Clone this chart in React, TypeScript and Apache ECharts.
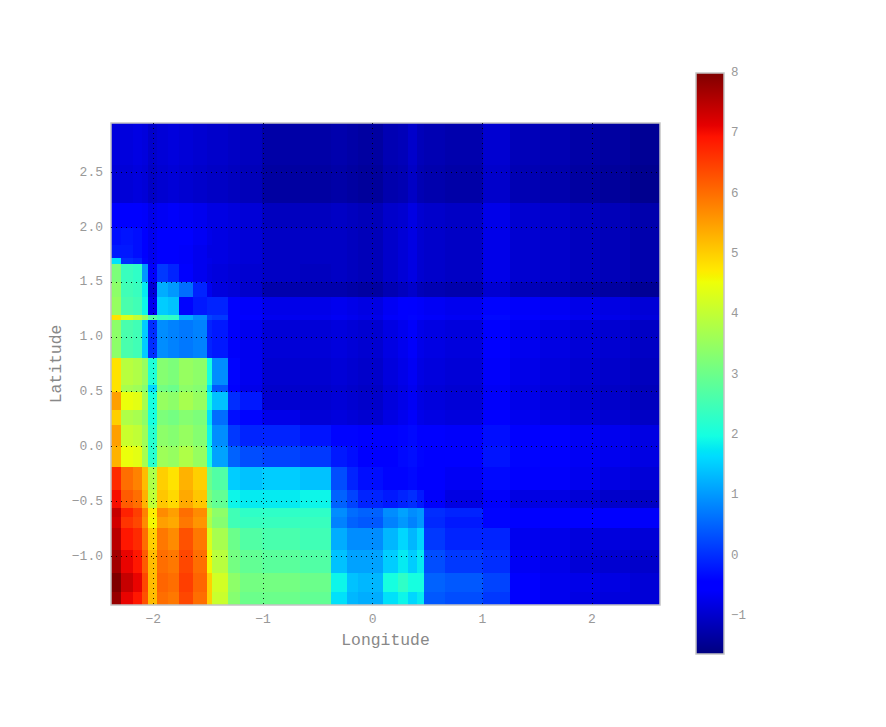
import React, { useEffect, useRef } from "react";
import * as echarts from "echarts";

const xTicks = [-2, -1, 0, 1, 2];
const yTicks = [-1, -0.5, 0, 0.5, 1, 1.5, 2, 2.5];
const barTicks = [-1, 0, 1, 2, 3, 4, 5, 6, 7, 8];
const barRange = [-1.63, 8];
const xEdges = [-2.386, -2.297, -2.188, -2.106, -2.051, -1.969, -1.869, -1.768, -1.641, -1.513, -1.468, -1.322, -1.212, -1.012, -0.665, -0.383, -0.237, -0.137, 0.091, 0.228, 0.319, 0.401, 0.465, 0.656, 1.003, 1.249, 1.522, 1.796, 2.069, 2.343, 2.62];
const yEdges = [2.949, 2.568, 2.221, 1.993, 1.838, 1.719, 1.665, 1.5, 1.364, 1.2, 1.154, 0.808, 0.562, 0.498, 0.334, 0.197, 0.005, -0.186, -0.396, -0.56, -0.642, -0.742, -0.943, -1.152, -1.325, -1.444];
const values = [
  [-0.85,-0.85,-0.8,-0.85,-1.0,-0.9,-0.85,-0.9,-0.95,-1.0,-1.0,-1.05,-1.1,-1.3,-1.3,-1.25,-1.3,-1.35,-1.2,-1.15,-1.0,-1.15,-1.2,-1.25,-0.95,-1.15,-1.2,-1.3,-1.35,-1.45],
  [-0.9,-0.9,-0.85,-0.9,-1.05,-0.95,-0.9,-0.95,-1.0,-1.05,-1.05,-1.1,-1.15,-1.35,-1.35,-1.3,-1.35,-1.4,-1.25,-1.2,-1.05,-1.2,-1.25,-1.3,-1.0,-1.2,-1.25,-1.35,-1.4,-1.5],
  [-0.55,-0.55,-0.55,-0.6,-0.75,-0.65,-0.6,-0.65,-0.7,-0.8,-0.8,-0.85,-0.9,-1.1,-1.1,-1.05,-1.1,-1.15,-1.0,-0.95,-0.8,-0.95,-1.0,-1.05,-0.75,-0.95,-1.0,-1.1,-1.15,-1.25],
  [-0.3,-0.25,-0.3,-0.5,-0.7,-0.5,-0.5,-0.55,-0.65,-0.75,-0.8,-0.85,-0.9,-1.05,-1.05,-1.05,-1.1,-1.15,-1.0,-0.9,-0.8,-0.95,-1.0,-1.05,-0.75,-0.95,-1.0,-1.1,-1.15,-1.25],
  [-0.2,-0.2,-0.3,-0.5,-0.7,-0.55,-0.55,-0.6,-0.7,-0.8,-0.8,-0.85,-0.9,-1.05,-1.05,-1.05,-1.1,-1.15,-1.0,-0.9,-0.8,-0.95,-1.0,-1.05,-0.75,-0.95,-1.0,-1.1,-1.15,-1.25],
  [1.7,0.0,-0.1,-0.4,-0.7,-0.5,-0.5,-0.6,-0.7,-0.75,-0.8,-0.85,-0.9,-1.05,-1.05,-1.05,-1.1,-1.15,-1.0,-0.9,-0.8,-0.95,-1.0,-1.05,-0.75,-0.95,-1.0,-1.1,-1.15,-1.25],
  [3.2,2.4,2.3,1.0,-0.6,0.1,-0.1,-0.5,-0.7,-0.8,-0.85,-0.9,-0.95,-1.05,-1.1,-1.05,-1.1,-1.15,-1.0,-0.9,-0.8,-0.95,-1.0,-1.05,-0.75,-0.95,-1.0,-1.1,-1.15,-1.25],
  [3.4,2.5,2.4,1.8,-0.9,1.2,1.0,0.6,-0.1,-0.7,-0.85,-0.9,-1.0,-1.25,-1.25,-1.25,-1.3,-1.35,-1.2,-1.1,-1.0,-1.15,-1.2,-1.25,-0.95,-1.15,-1.2,-1.3,-1.35,-1.45],
  [3.5,2.6,2.5,1.9,-0.7,1.5,1.4,-0.4,-0.2,-0.1,-0.1,-0.55,-0.6,-0.75,-0.75,-0.7,-0.75,-0.8,-0.65,-0.55,-0.45,-0.6,-0.65,-0.7,-0.4,-0.6,-0.65,-0.75,-0.8,-0.9],
  [4.8,4.3,4.0,3.5,2.7,2.4,2.3,1.2,0.9,0.2,0.1,-0.5,-0.55,-0.7,-0.7,-0.65,-0.7,-0.75,-0.6,-0.5,-0.4,-0.55,-0.6,-0.65,-0.35,-0.55,-0.6,-0.7,-0.75,-0.85],
  [3.4,2.6,2.5,1.5,0.0,0.9,0.8,0.7,0.8,-0.1,-0.2,-0.6,-0.7,-0.9,-0.9,-0.85,-0.9,-0.95,-0.8,-0.7,-0.6,-0.75,-0.8,-0.85,-0.55,-0.7,-0.8,-0.9,-0.95,-1.05],
  [4.8,3.9,3.8,3.5,2.1,3.3,3.2,3.5,3.4,2.0,0.9,-0.4,-0.7,-0.95,-0.95,-0.9,-0.95,-1.0,-0.85,-0.75,-0.65,-0.8,-0.85,-0.9,-0.6,-0.75,-0.85,-0.95,-1.0,-1.1],
  [4.8,3.7,3.6,3.3,1.6,3.1,3.0,3.4,3.3,1.7,0.4,-0.5,-0.75,-1.0,-1.0,-0.95,-1.0,-1.05,-0.9,-0.8,-0.7,-0.85,-0.9,-0.95,-0.65,-0.8,-0.9,-1.0,-1.05,-1.15],
  [5.5,4.5,4.4,3.7,2.0,3.5,3.4,3.7,3.5,2.0,1.4,0.0,-0.2,-0.95,-0.95,-0.9,-0.95,-1.0,-0.85,-0.75,-0.65,-0.8,-0.85,-0.9,-0.6,-0.75,-0.85,-0.95,-1.0,-1.1],
  [5.0,3.8,3.7,3.4,2.0,3.2,3.1,3.3,3.2,1.7,0.6,-0.3,-0.4,-0.75,-0.9,-0.85,-0.9,-0.95,-0.8,-0.7,-0.6,-0.75,-0.8,-0.85,-0.55,-0.7,-0.8,-0.9,-0.95,-1.05],
  [5.5,4.1,4.0,3.6,2.2,3.4,3.3,3.5,3.3,1.9,0.9,0.1,-0.1,-0.1,-0.25,-0.4,-0.4,-0.5,-0.5,-0.4,-0.35,-0.45,-0.55,-0.6,-0.3,-0.45,-0.55,-0.65,-0.7,-0.8],
  [5.3,4.5,4.4,3.7,2.2,3.6,3.5,3.8,3.5,2.0,1.1,0.5,0.3,0.2,0.1,-0.2,-0.3,-0.45,-0.5,-0.35,-0.3,-0.4,-0.5,-0.55,-0.25,-0.4,-0.5,-0.65,-0.7,-0.8],
  [6.7,6.0,5.8,5.2,3.8,5.0,4.8,5.3,5.0,3.0,2.7,1.5,1.4,1.5,1.4,0.3,-0.1,-0.3,-0.4,-0.4,-0.35,-0.45,-0.55,-0.65,-0.35,-0.5,-0.6,-0.7,-0.8,-0.9],
  [7.0,6.2,6.0,5.3,4.0,5.1,4.9,5.4,5.1,3.2,2.9,1.9,1.8,1.8,1.9,0.5,0.2,-0.1,-0.2,-0.1,0.0,-0.2,-0.6,-0.8,-0.6,-0.8,-0.8,-0.9,-1.0,-1.05],
  [7.4,6.8,6.5,5.8,4.7,5.7,5.5,6.0,5.7,3.9,3.4,2.5,2.3,2.3,2.3,0.9,0.6,0.5,0.9,1.1,0.9,1.0,0.0,-0.1,-0.4,-0.55,-0.55,-0.55,-0.55,-0.6],
  [7.3,6.6,6.4,5.7,4.6,5.5,5.4,5.9,5.6,3.8,3.3,2.5,2.4,2.4,2.4,0.8,0.5,0.4,0.8,1.0,0.8,1.0,-0.05,-0.2,-0.4,-0.55,-0.5,-0.55,-0.55,-0.6],
  [7.5,6.9,6.7,6.0,5.0,5.9,5.7,6.3,5.9,4.3,3.7,3.0,2.7,2.6,2.5,1.2,0.9,0.9,1.3,1.6,1.3,1.6,0.1,-0.1,-0.1,-0.7,-0.75,-0.85,-0.85,-0.9],
  [7.7,7.1,6.9,6.2,5.2,6.0,5.9,6.4,6.0,4.6,3.9,3.1,2.9,2.8,2.7,1.4,1.1,1.1,1.5,1.8,1.5,1.8,0.3,0.1,0.0,-0.65,-0.75,-0.9,-0.95,-1.0],
  [8.0,7.4,7.1,6.4,5.2,6.1,6.0,6.5,6.1,5.0,4.2,3.4,3.1,3.1,3.0,1.9,1.4,1.3,2.0,2.3,2.0,2.0,0.5,0.4,0.2,-0.55,-0.7,-0.75,-0.8,-0.9],
  [7.8,7.1,6.9,6.3,5.2,6.0,5.9,6.4,6.0,5.0,4.1,3.3,3.0,3.0,2.9,1.7,1.3,1.2,1.7,1.9,1.6,1.8,0.4,0.3,0.1,-0.55,-0.7,-0.8,-0.85,-0.9],
];

const TEXT = "#999999";
const NAME_TEXT = "#888888";
const FONT = "Liberation Mono";
const BORDER = "#c4c4c4";

// matplotlib "jet" anchor points
const jetStops: [number, number, number, number][] = [
  [0, 0, 0, 127], [0.11, 0, 0, 255], [0.125, 0, 0, 255], [0.34, 0, 220, 255], [0.35, 0, 229, 246],
  [0.375, 20, 255, 226], [0.64, 238, 255, 8], [0.65, 246, 244, 0], [0.66, 255, 234, 0],
  [0.89, 255, 19, 0], [0.91, 229, 0, 0], [1, 127, 0, 0],
];
function jet(v: number): string {
  const t = Math.min(1, Math.max(0, (v - barRange[0]) / (barRange[1] - barRange[0])));
  for (let i = 1; i < jetStops.length; i++) {
    const a = jetStops[i - 1];
    const b = jetStops[i];
    if (t <= b[0]) {
      const k = (t - a[0]) / (b[0] - a[0]);
      return `rgb(${Math.round(a[1] + (b[1] - a[1]) * k)},${Math.round(a[2] + (b[2] - a[2]) * k)},${Math.round(a[3] + (b[3] - a[3]) * k)})`;
    }
  }
  return "rgb(127,0,0)";
}

const cells: number[][] = [];
values.forEach((row, r) =>
  row.forEach((v, c) => cells.push([xEdges[c], xEdges[c + 1], yEdges[r + 1], yEdges[r], v]))
);

const minus = (s: string) => s.replace("-", "\u2212");

export default function App() {
  const ref = useRef<HTMLDivElement>(null);
  useEffect(() => {
    const chart = echarts.init(ref.current!, undefined, { renderer: "svg" });
    const axisText = { color: TEXT, fontFamily: FONT, fontSize: 13 };
    const dotted = { show: true, lineStyle: { color: "#000000", type: [1, 4] as number[], width: 1, opacity: 0.85 } };
    chart.setOption({
      animation: false,
      backgroundColor: "#ffffff",
      grid: [
        { left: 111, top: 123, width: 549, height: 482, show: true, borderColor: BORDER, borderWidth: 1.5, backgroundColor: "transparent", z: 3 },
        { left: 696, top: 73, width: 28, height: 581, show: true, borderColor: BORDER, borderWidth: 1.5, backgroundColor: "transparent", z: 3 },
      ],
      xAxis: [
        {
          type: "value", gridIndex: 0, min: xEdges[0], max: xEdges[xEdges.length - 1], z: 5,
          name: "Longitude", nameLocation: "middle", nameGap: 27,
          nameTextStyle: { color: NAME_TEXT, fontFamily: FONT, fontSize: 16.4 },
          axisLine: { show: false },
          axisTick: { show: false, customValues: xTicks },
          axisLabel: { ...axisText, margin: 8, customValues: xTicks, formatter: (v: number) => minus(String(v)) },
          splitLine: dotted,
        },
        { type: "value", gridIndex: 1, min: 0, max: 1, show: false },
      ],
      yAxis: [
        {
          type: "value", gridIndex: 0, min: yEdges[yEdges.length - 1], max: yEdges[0], z: 5,
          name: "Latitude", nameLocation: "middle", nameGap: 47, nameMoveOverlap: false,
          nameTextStyle: { color: NAME_TEXT, fontFamily: FONT, fontSize: 16.4 },
          axisLine: { show: false },
          axisTick: { show: false, customValues: yTicks },
          axisLabel: { ...axisText, margin: 8, customValues: yTicks, formatter: (v: number) => minus(v.toFixed(1)) },
          splitLine: dotted,
        },
        {
          type: "value", gridIndex: 1, position: "right", min: barRange[0], max: barRange[1],
          axisLine: { show: false },
          axisTick: { show: false, customValues: barTicks },
          axisLabel: { ...axisText, fontSize: 12.5, margin: 7, customValues: barTicks, formatter: (v: number) => minus(String(v)) },
          splitLine: { show: false },
        },
      ],
      series: [
        {
          type: "custom", xAxisIndex: 0, yAxisIndex: 0, z: 1, silent: true,
          data: cells,
          encode: { x: [0, 1], y: [2, 3] },
          renderItem: (_p: unknown, api: any) => {
            const a = api.coord([api.value(0), api.value(3)]);
            const b = api.coord([api.value(1), api.value(2)]);
            const x0 = Math.round(a[0]);
            const y0 = Math.round(a[1]);
            return {
              type: "rect",
              shape: { x: x0, y: y0, width: Math.round(b[0]) - x0, height: Math.round(b[1]) - y0 },
              style: { fill: jet(api.value(4)) },
            };
          },
        },
        {
          type: "custom", xAxisIndex: 1, yAxisIndex: 1, z: 1, silent: true,
          data: [[0, 1, barRange[0], barRange[1]]],
          encode: { x: [0, 1], y: [2, 3] },
          renderItem: (_p: unknown, api: any) => {
            const a = api.coord([api.value(0), api.value(3)]);
            const b = api.coord([api.value(1), api.value(2)]);
            return {
              type: "rect",
              shape: { x: a[0], y: a[1], width: b[0] - a[0], height: b[1] - a[1] },
              style: {
                fill: new echarts.graphic.LinearGradient(0, 1, 0, 0,
                  jetStops.map((s) => ({ offset: s[0], color: `rgb(${s[1]},${s[2]},${s[3]})` }))),
              },
            };
          },
        },
      ],
    });
    return () => chart.dispose();
  }, []);
  return <div ref={ref} style={{ position: "fixed", left: 0, top: 0, width: 886, height: 727 }} />;
}
